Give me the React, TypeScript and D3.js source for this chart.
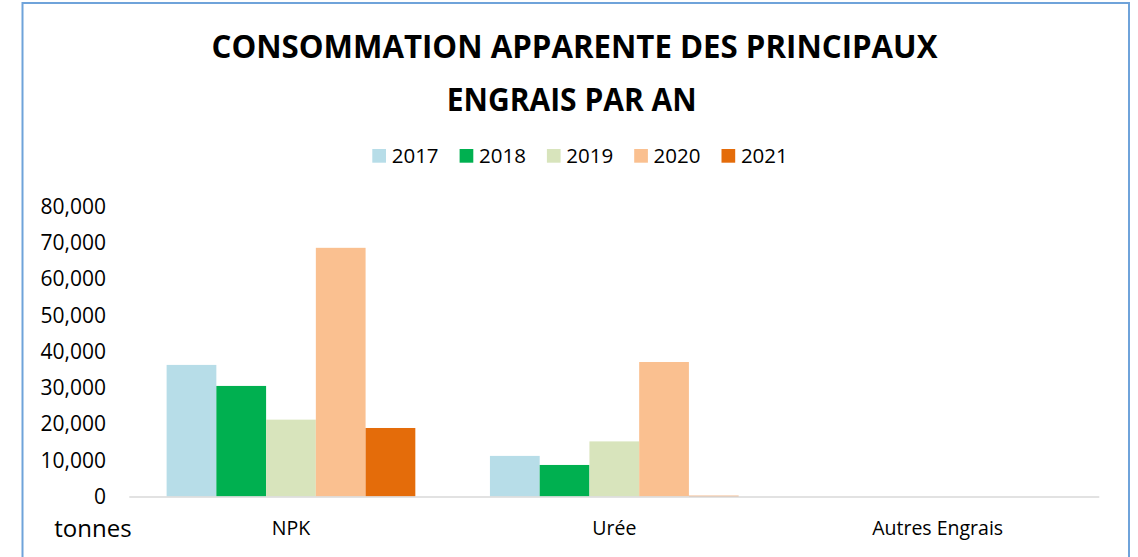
import React from "react";
import * as d3 from "d3";

const categories = ["NPK", "Urée", "Autres Engrais"];
const years = ["2017", "2018", "2019", "2020", "2021"];
const values2017 = [36300, 11200, 0];
const values2018 = [30500, 8700, 0];
const values2019 = [21200, 15200, 0];
const values2020 = [68600, 37100, 0];
const values2021 = [18900, 200, 0];
const yTicks = [0, 10000, 20000, 30000, 40000, 50000, 60000, 70000, 80000];
const colors = ["#B7DDE8", "#00B050", "#D8E4BC", "#FAC090", "#E46C0A"];
const titleLines = ["CONSOMMATION APPARENTE DES PRINCIPAUX", "ENGRAIS PAR AN"];
const yUnit = "tonnes";

const series = [values2017, values2018, values2019, values2020, values2021];

const W = 1138;
const H = 557;
const FONT = "'Open Sans', 'Liberation Sans', Arial, sans-serif";
const titleLayout = [
  { cx: 574.5, y: 57.7, len: 726 },
  { cx: 571.7, y: 110.7, len: 250 },
];

export default function App() {
  const x0 = d3.scaleBand<string>().domain(categories).range([129.3, 1099.3]).paddingInner(0).paddingOuter(0);
  const x1 = d3.scaleBand<string>().domain(years).range([0, x0.bandwidth()]).paddingInner(0).paddingOuter(0.75);
  const y = d3.scaleLinear().domain([0, 80000]).range([496.5, 206.5]);
  const fmt = d3.format(",");

  return (
    <svg width={W} height={H} style={{ position: "absolute", left: 0, top: 0, background: "#fff" }}>
      <rect x={0} y={0} width={W} height={H} fill="#fff" />
      <rect x={22.5} y={3} width={1106.5} height={H + 20} fill="none" stroke="#6FA3DA" strokeWidth={2} />

      {titleLines.map((t, i) => (
        <text
          key={t}
          x={titleLayout[i].cx - titleLayout[i].len / 2}
          y={titleLayout[i].y}
          textLength={titleLayout[i].len}
          lengthAdjust="spacingAndGlyphs"
          fontFamily={FONT}
          fontWeight={700}
          fontSize={33}
          fill="#000"
        >
          {t}
        </text>
      ))}

      {years.map((yr, i) => (
        <g key={yr} transform={`translate(${372.3 + i * 87.3},149)`}>
          <rect x={0} y={0} width={13.7} height={13.7} fill={colors[i]} />
          <text x={19.4} y={13.7} fontFamily={FONT} fontSize={20.5} fill="#000">
            {yr}
          </text>
        </g>
      ))}

      {yTicks.map((t) => (
        <text key={t} x={106} y={y(t)} dy="0.35em" textAnchor="end" fontFamily={FONT} fontSize={21} fill="#000">
          {fmt(t)}
        </text>
      ))}

      {categories.map((c, ci) => (
        <g key={c} transform={`translate(${x0(c)},0)`}>
          {years.map((yr, si) => {
            const v = series[si][ci];
            if (v <= 0) return null;
            return (
              <rect
                key={yr}
                x={x1(yr)}
                y={y(v)}
                width={x1.bandwidth()}
                height={y(0) - y(v)}
                fill={colors[si]}
              />
            );
          })}
        </g>
      ))}

      <line x1={129.3} x2={1099.3} y1={y(0) + 0.5} y2={y(0) + 0.5} stroke="#D9D9D9" strokeWidth={1.5} />

      {categories.map((c) => (
        <text key={c} x={(x0(c) as number) + x0.bandwidth() / 2} y={534.5} textAnchor="middle" fontFamily={FONT} fontSize={19.5} fill="#000">
          {c}
        </text>
      ))}

      <text x={54.3} y={536.7} fontFamily={FONT} fontSize={24} fill="#000">
        {yUnit}
      </text>
    </svg>
  );
}
